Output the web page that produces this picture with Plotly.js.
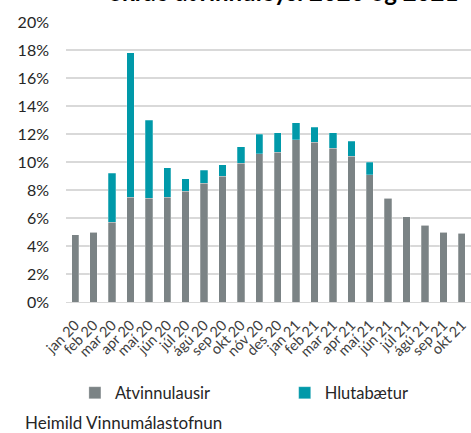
<!DOCTYPE html>
<html>
<head>
<meta charset="utf-8">
<script src="https://cdn.plot.ly/plotly-3.0.1.min.js"></script>
<style>html,body{margin:0;padding:0;background:#fff;}#chart{width:471px;height:433px;}</style>
</head>
<body>
<div id="chart"></div>
<script>
const months = ["jan 20","feb 20","mar 20","apr 20","maí 20","jún 20","júl 20","ágú 20","sep 20","okt 20","nóv 20","des 20",
                "jan 21","feb 21","mar 21","apr 21","maí 21","jún 21","júl 21","ágú 21","sep 21","okt 21"];
const atvinnulausir = [4.8,5.0,5.7,7.5,7.4,7.5,7.9,8.5,9.0,9.9,10.6,10.7,11.6,11.4,11.0,10.4,9.1,7.4,6.1,5.5,5.0,4.9];
const hlutabaetur   = [0,0,3.5,10.3,5.6,2.1,0.9,0.9,0.8,1.2,1.4,1.4,1.2,1.1,1.1,1.1,0.9,0,0,0,0,0];
const yTicks = [0,2,4,6,8,10,12,14,16,18,20];

const font = "Lato, 'Open Sans', sans-serif";
const traces = [
  {type:'bar', name:'Atvinnulausir', x:months, y:atvinnulausir, legend:'legend',
   marker:{color:'#7b8385', line:{color:'rgba(255,255,255,0.5)', width:0.5}}},
  {type:'bar', name:'Hlutabætur', x:months, y:hlutabaetur, legend:'legend2',
   marker:{color:'#0099a9', line:{color:'rgba(255,255,255,0.5)', width:0.5}}}
];
const legFont = {size:16.5, color:'#262626', family:font};
const layout = {
  width:471, height:433,
  margin:{l:65.5, r:0, t:22, b:131},
  barmode:'stack', bargap:0.6,
  paper_bgcolor:'#fff', plot_bgcolor:'#fff',
  font:{family:font, size:13, color:'#262626'},
  showlegend:true,
  legend:{orientation:'h', x:0.022, y:-0.325, xanchor:'left', yanchor:'middle', font:legFont, bgcolor:'rgba(0,0,0,0)'},
  legend2:{orientation:'h', x:0.54, y:-0.325, xanchor:'left', yanchor:'middle', font:legFont, bgcolor:'rgba(0,0,0,0)'},
  xaxis:{type:'category', tickangle:-45, tickfont:{size:14.5, color:'#404040'},
         showgrid:false, zeroline:false, showline:true, linecolor:'#d9d9d9', linewidth:1, ticks:'',
         ticklabelstandoff:8},
  yaxis:{range:[0,20], tickvals:yTicks, ticktext:yTicks.map(v=>v+'%'),
         tickfont:{size:16, color:'#262626'}, gridcolor:'#d9d9d9', gridwidth:1.5,
         zeroline:false, showline:false, ticks:'', ticklabelstandoff:16},
  annotations:[
    {text:'<b>Skráð atvinnuleysi 2020 og 2021</b>', xref:'paper', yref:'paper', x:0.536, y:1.05,
     xanchor:'center', yanchor:'bottom', showarrow:false, font:{size:24, color:'#000'}},
    {text:'Heimild Vinnumálastofnun', xref:'paper', yref:'paper', x:-0.107, y:-0.432,
     xanchor:'left', yanchor:'middle', showarrow:false, font:{size:17, color:'#262626'}}
  ]
};
Plotly.newPlot('chart', traces, layout, {displayModeBar:false, staticPlot:true});
</script>
</body>
</html>
